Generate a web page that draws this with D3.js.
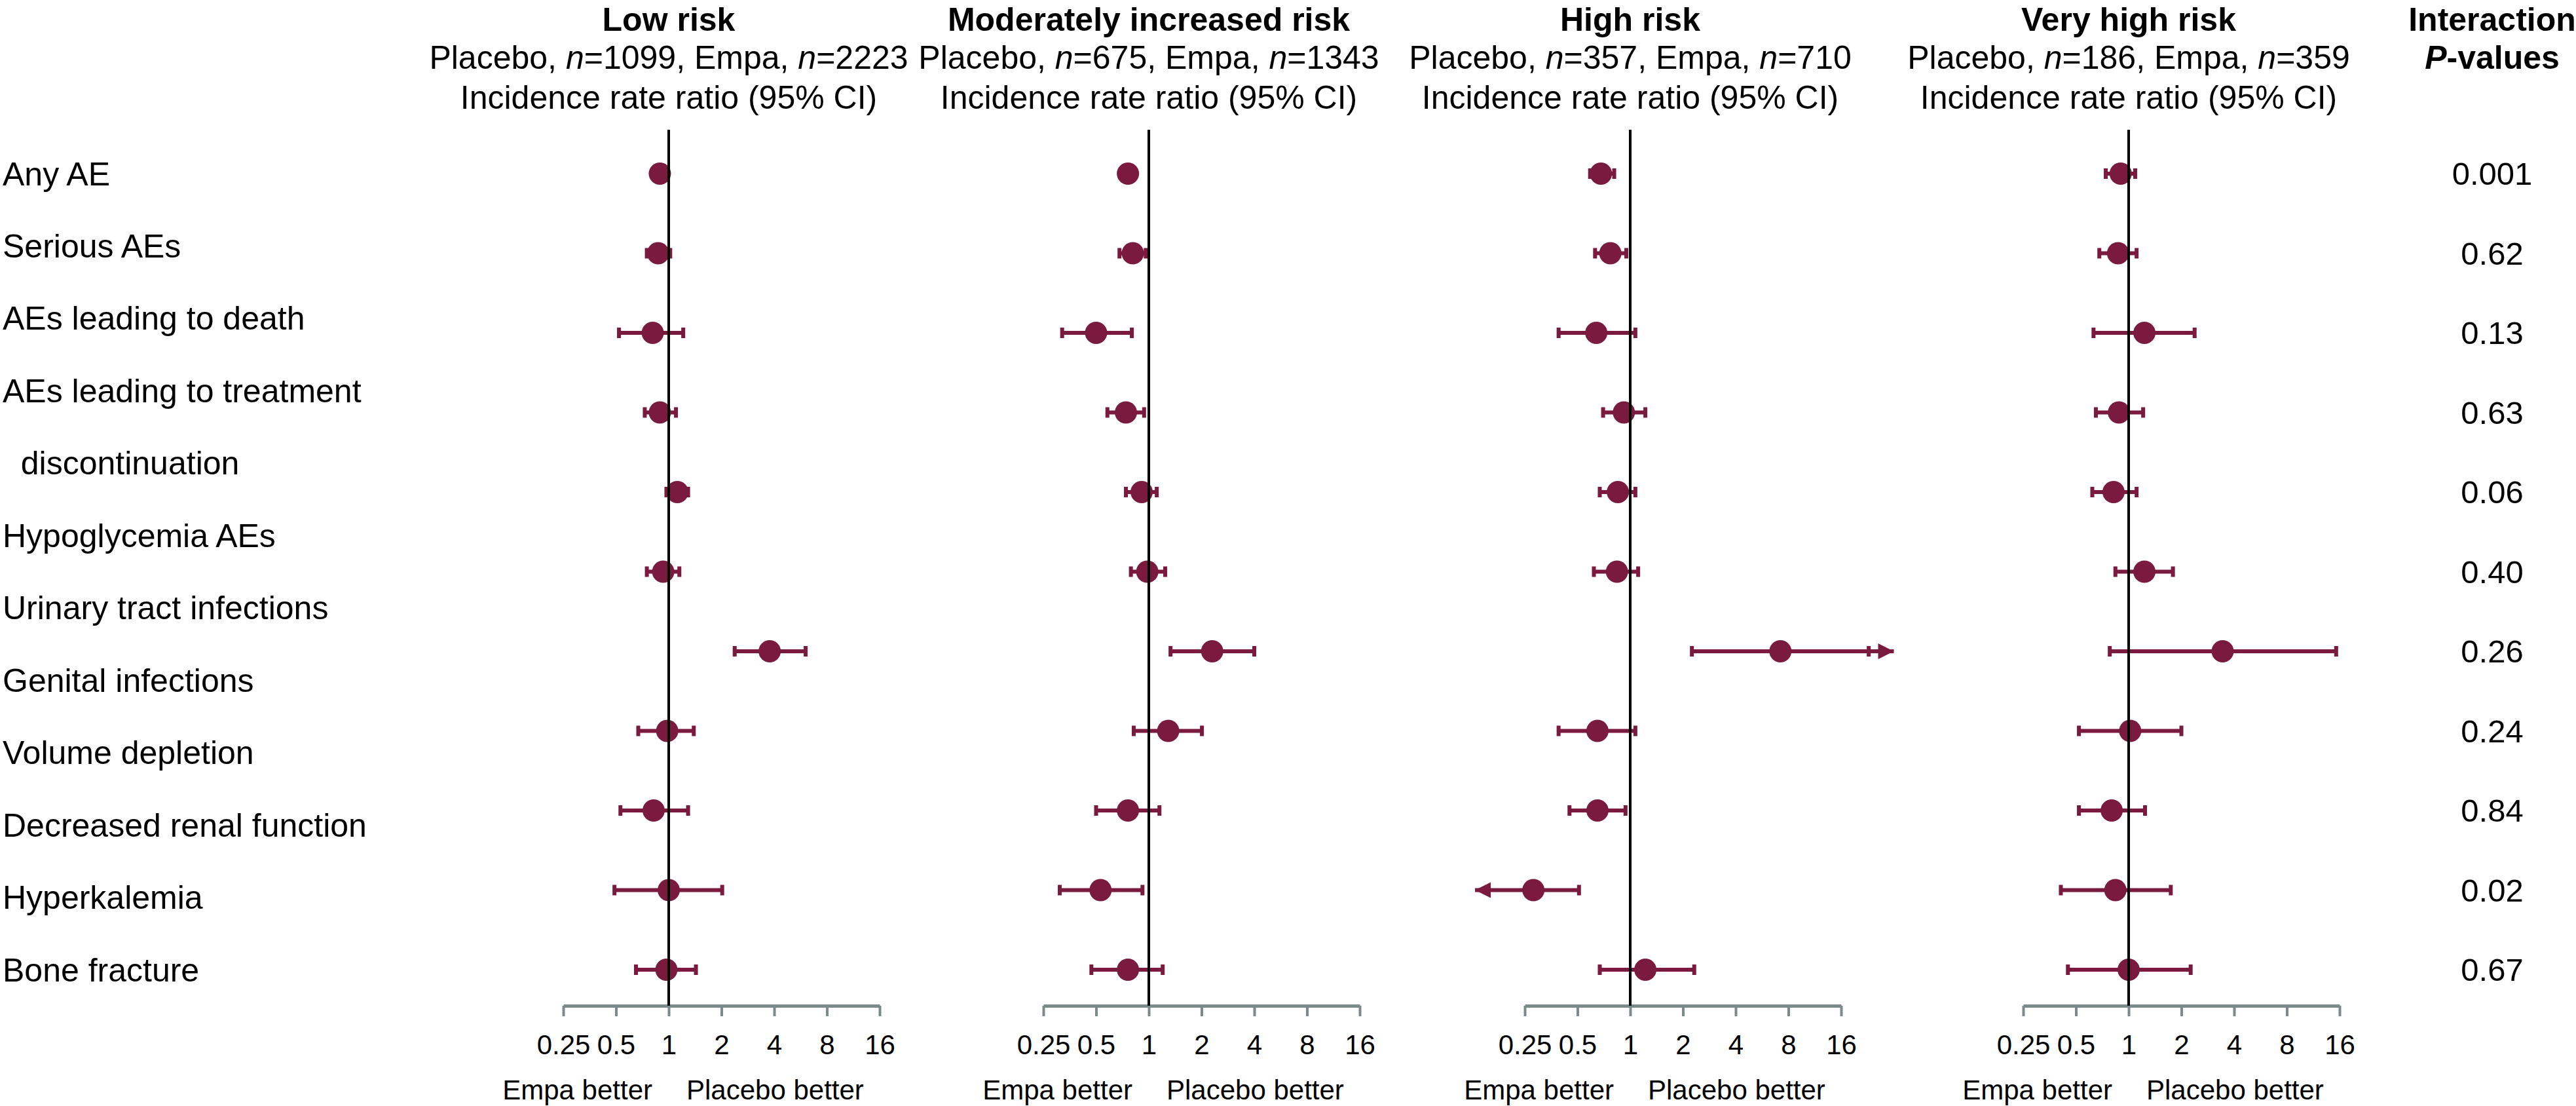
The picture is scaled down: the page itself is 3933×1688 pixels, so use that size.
<!DOCTYPE html>
<html><head><meta charset="utf-8">
<script src="https://cdn.jsdelivr.net/npm/d3@7"></script>
<style>
body{margin:0;background:#fff}
text{font-family:"Liberation Sans",Arial,Helvetica,sans-serif;fill:#000}
</style></head><body>
<svg id="chart" width="3933" height="1688"></svg>
<script>
// ---------- data ----------
const outcomes = ["Any AE","Serious AEs","AEs leading to death","AEs leading to treatment discontinuation",
  "Hypoglycemia AEs","Urinary tract infections","Genital infections","Volume depletion",
  "Decreased renal function","Hyperkalemia","Bone fracture"];
const rowLabels = ["Any AE","Serious AEs","AEs leading to death","AEs leading to treatment","  discontinuation",
  "Hypoglycemia AEs","Urinary tract infections","Genital infections","Volume depletion",
  "Decreased renal function","Hyperkalemia","Bone fracture"];
const panelTitles = ["Low risk","Moderately increased risk","High risk","Very high risk"];
const placeboN = [1099, 675, 357, 186];
const empaN = [2223, 1343, 710, 359];
const pValues = ["0.001","0.62","0.13","0.63","0.06","0.40","0.26","0.24","0.84","0.02","0.67"];
const tickValues = [0.25, 0.5, 1, 2, 4, 8, 16];
const tickLabels = ["0.25","0.5","1","2","4","8","16"];

// incidence rate ratios and 95% CI per risk group
const lowIRR = [0.89, 0.87, 0.81, 0.89, 1.12, 0.93, 3.77, 0.98, 0.82, 1.00, 0.97];
const lowLo  = [0.85, 0.75, 0.52, 0.73, 0.97, 0.75, 2.38, 0.67, 0.53, 0.49, 0.65];
const lowHi  = [0.93, 1.02, 1.21, 1.10, 1.29, 1.15, 6.05, 1.39, 1.29, 2.02, 1.43];

const modIRR = [0.76, 0.81, 0.50, 0.74, 0.91, 0.98, 2.30, 1.29, 0.76, 0.53, 0.76];
const modLo  = [0.72, 0.68, 0.32, 0.58, 0.74, 0.79, 1.33, 0.82, 0.50, 0.31, 0.47];
const modHi  = [0.81, 0.96, 0.80, 0.94, 1.11, 1.24, 4.00, 2.01, 1.15, 0.92, 1.20];

const highIRR = [0.68, 0.77, 0.64, 0.92, 0.85, 0.84, 7.20, 0.65, 0.65, 0.28, 1.22];
const highLo  = [0.59, 0.63, 0.39, 0.70, 0.67, 0.62, 2.25, 0.39, 0.45, null, 0.67];
const highHi  = [0.81, 0.95, 1.07, 1.22, 1.07, 1.11, 23.0, 1.07, 0.94, 0.51, 2.32];
const highArrowLo = [null, null, null, null, null, null, null, null, null, 0.13, null];
const highArrowHi = [null, null, null, null, null, null, 32, null, null, null, null];

const vhIRR = [0.90, 0.87, 1.23, 0.88, 0.82, 1.23, 3.44, 1.02, 0.80, 0.84, 1.00];
const vhLo  = [0.74, 0.68, 0.63, 0.65, 0.62, 0.84, 0.78, 0.52, 0.52, 0.41, 0.45];
const vhHi  = [1.09, 1.11, 2.38, 1.21, 1.11, 1.79, 15.3, 2.00, 1.24, 1.74, 2.26];

const noArrows = outcomes.map(() => null);
const panels = [
  {irr: lowIRR, lo: lowLo, hi: lowHi, aLo: noArrows, aHi: noArrows},
  {irr: modIRR, lo: modLo, hi: modHi, aLo: noArrows, aHi: noArrows},
  {irr: highIRR, lo: highLo, hi: highHi, aLo: highArrowLo, aHi: highArrowHi},
  {irr: vhIRR, lo: vhLo, hi: vhHi, aLo: noArrows, aHi: noArrows}
];

// ---------- layout ----------
const COL = "#7a1a3e", AXIS = "#7b8b8b";
const panelX0 = [860, 1593, 2328, 3089];
const panelW = 483;
const axisY = 1535, refTop = 198;
const headY = [47, 105, 166];
const svg = d3.select("#chart");

const yRow = d3.scalePoint().domain(d3.range(outcomes.length)).range([265, 1480]);
const yLab = d3.scalePoint().domain(d3.range(rowLabels.length)).range([265, 1480]);

// row labels
svg.append("g").selectAll("text").data(rowLabels).join("text")
  .attr("x", 4).attr("y", (d, i) => yLab(i)).attr("dy", "0.35em")
  .style("white-space", "pre").style("font-size", "50px")
  .text(d => d);

// interaction p-values
const pX = 3805;
const ph = svg.append("g").attr("text-anchor", "middle").style("font-size", "50px").style("font-weight", "bold");
ph.append("text").attr("x", pX).attr("y", headY[0]).text("Interaction");
const pv = ph.append("text").attr("x", pX).attr("y", headY[1]);
pv.append("tspan").style("font-style", "italic").text("P");
pv.append("tspan").text("-values");
svg.append("g").attr("text-anchor", "middle").selectAll("text").data(pValues).join("text")
  .attr("x", pX).attr("y", (d, i) => yRow(i)).attr("dy", "0.35em")
  .style("font-size", "49px").text(d => d);

function tri(tipX, y, dir) {
  const L = 24, H = 12;
  return `M${tipX},${y} L${tipX - dir * L},${y - H} L${tipX - dir * L},${y + H} Z`;
}

panels.forEach((p, k) => {
  const x = d3.scaleLog().base(2).domain([0.25, 16]).range([panelX0[k], panelX0[k] + panelW]);
  const g = svg.append("g");
  const cx = x(1);

  // header
  const h = g.append("g").attr("text-anchor", "middle").style("font-size", "50px");
  h.append("text").attr("x", cx).attr("y", headY[0]).style("font-weight", "bold").text(panelTitles[k]);
  const t2 = h.append("text").attr("x", cx).attr("y", headY[1]);
  t2.append("tspan").text("Placebo, ");
  t2.append("tspan").style("font-style", "italic").text("n");
  t2.append("tspan").text(`=${placeboN[k]}, Empa, `);
  t2.append("tspan").style("font-style", "italic").text("n");
  t2.append("tspan").text(`=${empaN[k]}`);
  h.append("text").attr("x", cx).attr("y", headY[2]).text("Incidence rate ratio (95% CI)");

  // axis
  const ax = g.append("g").attr("transform", `translate(0,${axisY})`)
    .call(d3.axisBottom(x).tickValues(tickValues).tickFormat((d, i) => tickLabels[i])
      .tickSize(16).tickSizeOuter(0).tickPadding(28));
  ax.select(".domain").attr("stroke", AXIS).attr("stroke-width", 5);
  ax.selectAll(".tick line").attr("stroke", AXIS).attr("stroke-width", 4);
  ax.selectAll(".tick text").style("font-size", "42px").attr("fill", "#000")
    .style("font-family", "'Liberation Sans',Arial,Helvetica,sans-serif");

  g.append("text").attr("x", cx - 25).attr("y", 1678).attr("text-anchor", "end")
    .style("font-size", "42px").text("Empa better");
  g.append("text").attr("x", cx + 27).attr("y", 1678).attr("text-anchor", "start")
    .style("font-size", "42px").text("Placebo better");

  const rows = outcomes.map((o, i) => ({i, irr: p.irr[i], lo: p.lo[i], hi: p.hi[i], aLo: p.aLo[i], aHi: p.aHi[i]}));

  // CI lines
  g.append("g").selectAll("line").data(rows).join("line")
    .attr("x1", d => x(d.aLo != null ? d.aLo : d.lo))
    .attr("x2", d => x(d.aHi != null ? d.aHi : d.hi))
    .attr("y1", d => yRow(d.i)).attr("y2", d => yRow(d.i))
    .attr("stroke", COL).attr("stroke-width", 6);
  // caps
  const caps = [];
  rows.forEach(d => { if (d.lo != null) caps.push({i: d.i, v: d.lo}); if (d.hi != null) caps.push({i: d.i, v: d.hi}); });
  g.append("g").selectAll("rect").data(caps).join("rect")
    .attr("x", d => x(d.v) - 3).attr("y", d => yRow(d.i) - 8)
    .attr("width", 6).attr("height", 16).attr("fill", COL);
  // arrows
  g.append("g").selectAll("path")
    .data(rows.filter(d => d.aLo != null).map(d => ({i: d.i, v: d.aLo, dir: -1}))
      .concat(rows.filter(d => d.aHi != null).map(d => ({i: d.i, v: d.aHi, dir: 1}))))
    .join("path").attr("d", d => tri(x(d.v), yRow(d.i), d.dir)).attr("fill", COL);
  // points
  g.append("g").selectAll("circle").data(rows).join("circle")
    .attr("cx", d => x(d.irr)).attr("cy", d => yRow(d.i)).attr("r", 17).attr("fill", COL);

  // reference line at 1
  g.append("line").attr("x1", cx).attr("x2", cx).attr("y1", refTop).attr("y2", axisY)
    .attr("stroke", "#000").attr("stroke-width", 4);
});
</script>
</body></html>
